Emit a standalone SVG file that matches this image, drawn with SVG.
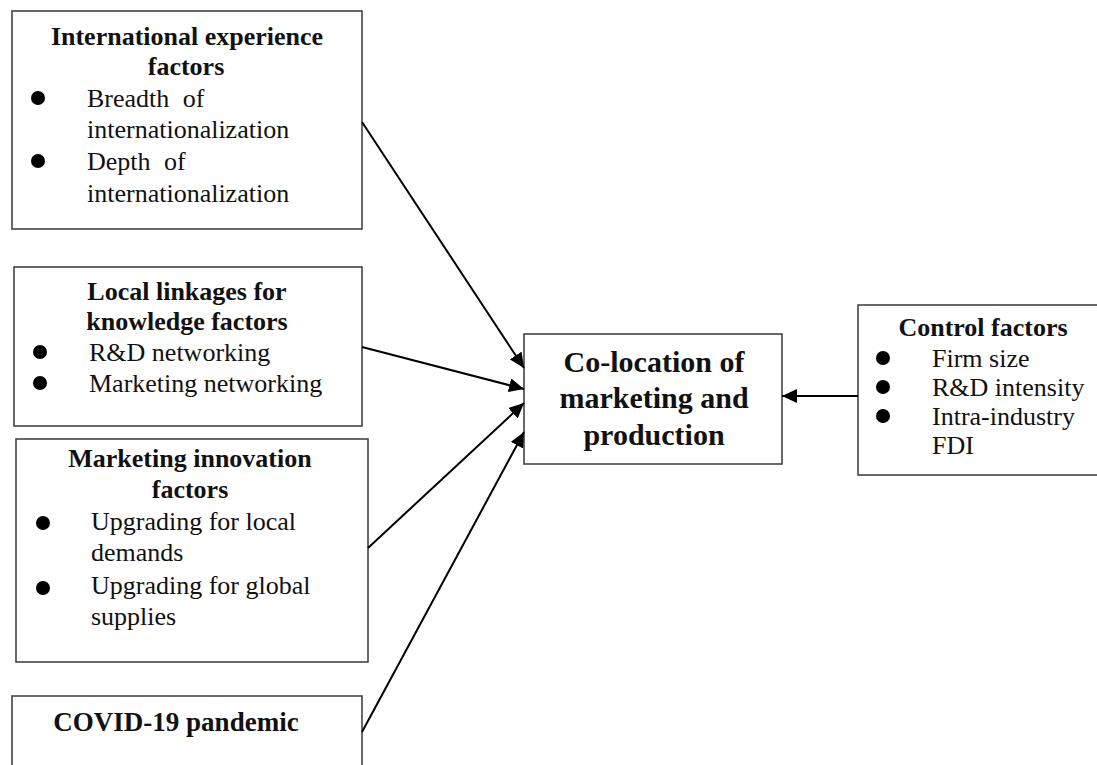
<svg xmlns="http://www.w3.org/2000/svg" width="1097" height="765" viewBox="0 0 1097 765">
<style>
  .box { fill: #ffffff; stroke: #444444; stroke-width: 1.6; }
  .t { font-family: "Liberation Serif", "Times New Roman", serif; font-size: 26px; fill: #111111; }
  .b { font-weight: bold; }
  .ctr { text-anchor: middle; }
  .big { font-size: 30px; }
  .dot { fill: #000000; }
  .conn { stroke: #000000; stroke-width: 2; fill: none; marker-end: url(#arr); }
</style>
<defs>
  <marker id="arr" markerUnits="userSpaceOnUse" markerWidth="16" markerHeight="14" refX="15" refY="7" orient="auto">
    <path d="M0,0 L15,7 L0,14 Z" fill="#000000"/>
  </marker>
</defs>
<rect x="0" y="0" width="1097" height="765" fill="#ffffff"/>

<g id="node-international">
  <rect class="box" x="12" y="11" width="350" height="218"/>
  <text class="t b ctr" x="187" y="45">International experience</text>
  <text class="t b ctr" x="186" y="75">factors</text>
  <circle class="dot" cx="38" cy="98" r="7"/>
  <text class="t" x="87" y="107" word-spacing="7">Breadth of</text>
  <text class="t" x="87" y="138">internationalization</text>
  <circle class="dot" cx="38" cy="161" r="7"/>
  <text class="t" x="87" y="170" word-spacing="7">Depth of</text>
  <text class="t" x="87" y="202">internationalization</text>
</g>

<g id="node-local">
  <rect class="box" x="14" y="267" width="348" height="159"/>
  <text class="t b ctr" x="187" y="300">Local linkages for</text>
  <text class="t b ctr" x="187" y="330">knowledge factors</text>
  <circle class="dot" cx="40" cy="352" r="7"/>
  <text class="t" x="89" y="361">R&amp;D networking</text>
  <circle class="dot" cx="40" cy="383" r="7"/>
  <text class="t" x="89" y="392">Marketing networking</text>
</g>

<g id="node-marketing">
  <rect class="box" x="16" y="439" width="352" height="223"/>
  <text class="t b ctr" x="190" y="467">Marketing innovation</text>
  <text class="t b ctr" x="190" y="498">factors</text>
  <circle class="dot" cx="43" cy="523" r="7"/>
  <text class="t" x="91" y="530">Upgrading for local</text>
  <text class="t" x="91" y="561">demands</text>
  <circle class="dot" cx="43" cy="588" r="7"/>
  <text class="t" x="91" y="594">Upgrading for global</text>
  <text class="t" x="91" y="625">supplies</text>
</g>

<g id="node-covid">
  <rect class="box" x="12" y="696" width="350" height="90"/>
  <text class="t b ctr" x="176" y="731" font-size="27" style="font-size:27px">COVID-19 pandemic</text>
</g>

<g id="node-colocation">
  <rect class="box" x="524" y="334" width="258" height="130"/>
  <text class="t b ctr big" x="654" y="372">Co-location of</text>
  <text class="t b ctr big" x="654" y="408">marketing and</text>
  <text class="t b ctr big" x="654" y="445">production</text>
</g>

<g id="node-control">
  <rect class="box" x="858" y="305" width="245" height="170"/>
  <text class="t b ctr" x="983" y="336">Control factors</text>
  <circle class="dot" cx="883" cy="358" r="7"/>
  <text class="t" x="932" y="367">Firm size</text>
  <circle class="dot" cx="883" cy="387" r="7"/>
  <text class="t" x="932" y="396">R&amp;D intensity</text>
  <circle class="dot" cx="883" cy="416" r="7"/>
  <text class="t" x="932" y="425">Intra-industry</text>
  <text class="t" x="932" y="454">FDI</text>
</g>

<g id="connectors">
  <line class="conn" x1="362" y1="122" x2="524" y2="368"/>
  <line class="conn" x1="362" y1="347" x2="524" y2="389"/>
  <line class="conn" x1="368" y1="548" x2="524" y2="403"/>
  <line class="conn" x1="362" y1="732" x2="524" y2="432"/>
  <line class="conn" x1="858" y1="396" x2="782" y2="396"/>
</g>
</svg>
